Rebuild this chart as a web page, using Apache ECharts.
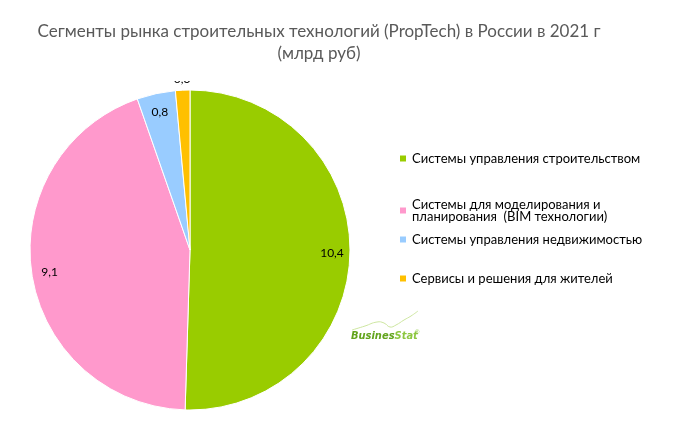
<!DOCTYPE html>
<html><head><meta charset="utf-8">
<script src="https://cdn.jsdelivr.net/npm/echarts@6/dist/echarts.min.js"></script>
<style>html,body{margin:0;padding:0;background:#fff}#c{width:683px;height:436px}</style>
</head><body><div id="c"></div>
<script>
var categories = ['Системы управления строительством','Системы для моделирования и планирования  (BIM технологии)','Системы управления недвижимостью','Сервисы и решения для жителей'];
var legendLabels = ['Системы управления строительством','Системы для моделирования и\nпланирования  (BIM технологии)','Системы управления недвижимостью','Сервисы и решения для жителей'];
var values = [10.4, 9.1, 0.8, 0.3];
var colors = ['#99CC00','#FF99CC','#99CCFF','#FFC000'];
var legendTops = [147, 193, 228, 267];

var font = 'Lato, "Open Sans", sans-serif';
function fmt(v){ return String(v).replace('.', ','); }

var mainData = categories.map(function(n,i){
  return {name:n, value:values[i], itemStyle:{color:colors[i]}};
});
function helperData(show){
  return categories.map(function(n,i){
    return {name:n, value:values[i], itemStyle:{color:'rgba(0,0,0,0)'}, label:{show: show(i)}};
  });
}
var labelStyle = {position:'inside', formatter:function(p){return fmt(p.value);}, color:'#000', fontSize:12, fontFamily:font};

var legends = categories.map(function(n,i){
  return {
    data:[n], orient:'vertical', left:393, top:legendTops[i],
    itemWidth:8, itemHeight:8, icon:'rect', selectedMode:false,
    formatter:function(){return legendLabels[i];},
    textStyle:{fontSize:13, fontFamily:font, color:'#000', lineHeight:12}
  };
});

var chart = echarts.init(document.getElementById('c'));
chart.setOption({
  animation:false,
  title:{
    text:'Сегменты рынка строительных технологий (PropTech) в России в 2021 г\n(млрд руб)',
    left:314, textAlign:'center', top:16,
    textStyle:{fontSize:17, fontWeight:'normal', color:'#595959', fontFamily:font, lineHeight:22}
  },
  legend: legends,
  series:[
    {type:'pie', center:[190,250], radius:[0,160], startAngle:90, clockwise:true,
     avoidLabelOverlap:false, silent:true,
     itemStyle:{borderColor:'#fff', borderWidth:1},
     label:{show:false},
     data: mainData},
    {type:'pie', center:[190,251], radius:[0,278], startAngle:90, clockwise:true,
     avoidLabelOverlap:false, silent:true, legendHoverLink:false,
     label:labelStyle, labelLine:{show:false},
     data: helperData(function(i){return i<3;})},
    {type:'pie', center:[190,250], radius:[160,176], startAngle:90, clockwise:true,
     avoidLabelOverlap:false, silent:true, legendHoverLink:false,
     label:labelStyle, labelLine:{show:false},
     data: helperData(function(i){return i===3;})}
  ],
  graphic:[
    {type:'rect', shape:{x:150,y:60,width:60,height:21}, style:{fill:'#fff'}, z:100, silent:true},
    {type:'polyline', shape:{points:[[352,330],[365,326],[377,322],[384,323],[390,327],[396,325],[404,320],[411,316],[418,311]], smooth:0.5}, style:{stroke:'#cde6a0', lineWidth:1, fill:null}, z:50},
    {type:'text', left:351, top:331, style:{text:'{a|Busines}{b|Stat}', rich:{
      a:{fill:'#62a41c', font:'italic bold 11px "DejaVu Sans Condensed", "Liberation Sans Narrow", sans-serif'},
      b:{fill:'#8cc63f', font:'italic bold 11px "DejaVu Sans Condensed", "Liberation Sans Narrow", sans-serif'}}}, z:51},
    {type:'text', left:415, top:329, style:{text:'®', fill:'#8cc63f', font:'6px sans-serif'}, z:51}
  ]
});
</script></body></html>
